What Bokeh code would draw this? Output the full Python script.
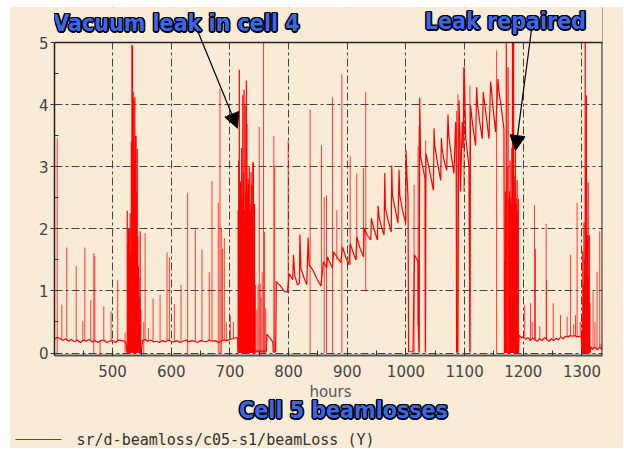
from bokeh.plotting import figure
from bokeh.layouts import column
from bokeh.models import (Range1d, SingleIntervalTicker, Label, Arrow, NormalHead,
                          BoxAnnotation, Span)
from bokeh.embed import file_html
from bokeh.resources import INLINE

# ---------------- data ----------------
base_hours = [
    401, 405, 410, 415, 420, 425, 430, 435, 440, 445, 450, 455, 460, 465, 470, 475,
    480, 485, 490, 495, 500, 505, 510, 515, 520, 523,
    524, 549, 551, 556, 560, 565, 570, 575, 580, 585,
    590, 595, 600, 605, 610, 615, 620, 625, 630, 635,
    640, 645, 650, 655, 660, 665, 670, 675, 680, 685,
    690, 695, 700, 705, 710, 713,
    714, 762, 763, 766, 770, 773, 774, 778, 779,
    786, 793, 798, 801, 807, 808.4, 810.5, 815, 818.5, 819.2,
    821, 826, 831, 833.3, 835, 841, 848, 855, 859.4, 865,
    866.3, 870, 874.8, 876.5, 882, 889, 891.9, 897, 903, 904.9,
    910, 914.5, 916.2, 922, 927.6, 929, 934, 940, 941, 946,
    951.4, 952.5, 954, 958, 962.7, 963.9, 965, 970, 975, 975.8,
    977, 982, 986.5, 988.2, 989.5, 994, 999.6, 1000.2, 1001.5, 1003.5,
    1004.5, 1012, 1014.5, 1018, 1020.5, 1021, 1022.4, 1023.5, 1025, 1029,
    1032.5, 1033.1, 1034, 1035.5, 1041, 1046.8, 1047.9, 1049, 1054, 1059.2,
    1060.4, 1061.5, 1065, 1069.4, 1071.7, 1073, 1077, 1081.9, 1084.7, 1085.5,
    1086.4, 1088.1, 1089.5, 1090.4, 1092, 1093, 1096, 1097.5, 1098.9, 1100,
    1101.8, 1105, 1107.4, 1109.1, 1110, 1114, 1118.8, 1120.5, 1122, 1126,
    1130.1, 1131.8, 1133, 1137, 1141.5, 1144.3, 1146, 1149, 1152.8, 1156.8,
    1158.5, 1162, 1167,
    1168, 1192, 1193, 1197, 1200, 1204, 1208, 1212, 1216, 1220,
    1224, 1228, 1232, 1236, 1240, 1244, 1248, 1252, 1256, 1260,
    1264, 1268, 1272, 1276, 1280, 1284, 1288, 1292, 1296, 1299,
    1300, 1314, 1315, 1318, 1322, 1326, 1330, 1335,
]
base_loss = [
    0.22, 0.25, 0.24, 0.20, 0.23, 0.19, 0.22, 0.18, 0.21, 0.17, 0.21, 0.19, 0.22, 0.18, 0.20, 0.17,
    0.20, 0.21, 0.17, 0.19, 0.20, 0.17, 0.21, 0.20, 0.19, 0.15,
    0.03, 0.03, 0.20, 0.22, 0.19, 0.21, 0.18, 0.19, 0.17, 0.20,
    0.18, 0.21, 0.19, 0.18, 0.20, 0.17, 0.19, 0.21, 0.18, 0.20,
    0.19, 0.17, 0.20, 0.19, 0.18, 0.21, 0.19, 0.20, 0.17, 0.19,
    0.21, 0.20, 0.22, 0.23, 0.25, 0.24,
    0.03, 0.03, 0.30, 0.27, 0.22, 0.18, 0.02, 0.02, 1.15,
    1.08, 0.99, 0.98, 1.28, 1.18, 1.58, 1.25, 1.10, 1.12, 1.91,
    1.36, 1.22, 1.10, 1.86, 1.42, 1.34, 1.20, 1.08, 1.47, 1.37,
    1.55, 1.46, 1.37, 1.63, 1.55, 1.46, 1.71, 1.55, 1.42, 1.76,
    1.62, 1.50, 1.87, 1.68, 1.55, 2.00, 1.90, 1.82, 2.17, 1.98,
    1.82, 2.37, 2.20, 2.04, 1.90, 2.90, 2.33, 2.12, 1.95, 3.02,
    2.54, 2.30, 2.09, 2.95, 2.54, 2.30, 2.09, 3.26, 2.91, 2.50,
    0.02, 0.02, 1.58, 1.52, 1.47, 0.45, 0.02, 4.11, 3.15, 2.98,
    2.81, 0.02, 3.21, 3.15, 2.90, 2.62, 3.62, 3.34, 3.05, 2.78,
    3.46, 3.29, 3.10, 2.94, 3.84, 3.50, 3.20, 2.89, 3.72, 3.64,
    0.02, 0.02, 2.54, 4.07, 3.50, 2.60, 3.72, 3.30, 4.60, 4.33,
    3.48, 3.20, 3.00, 0.02, 3.99, 3.65, 3.34, 4.28, 4.00, 3.70,
    3.45, 4.20, 4.10, 3.80, 3.45, 4.37, 4.20, 3.90, 3.56, 4.41,
    4.20, 3.99, 3.61,
    0.02, 0.02, 0.29, 0.24, 0.27, 0.22, 0.25, 0.20, 0.24, 0.21,
    0.19, 0.23, 0.20, 0.25, 0.22, 0.19, 0.23, 0.20, 0.24, 0.21,
    0.26, 0.23, 0.27, 0.26, 0.28, 0.27, 0.28, 0.26, 0.27, 0.25,
    0.02, 0.02, 0.10, 0.06, 0.10, 0.05, 0.09, 0.06,
]

spike_hours = [
    405.6, 413.5, 422.0, 438.0, 449.3, 452.7, 462.9, 468.0, 469.7, 478.7,
    485.0, 497.5, 508.8, 521.3, 553.1, 555.4, 561.0, 569.0, 580.9, 592.8,
    596.8, 605.3, 616.6, 628.0, 641.0, 652.4, 664.8, 669.4, 680.1, 683.0,
    685.3, 687.5, 690.4, 693.8, 700.6, 706.0,
    746.0, 748.0, 749.9, 751.5, 753.0, 755.0, 757.3, 759.0, 761.0, 774.8,
    776.3, 799.3, 836.7, 856.0, 860.7, 864.6, 874.8, 882.2, 890.7, 905.0,
    916.2, 927.6, 931.5, 1013.9, 1020.7, 1022.4, 1033.6, 1086.4, 1088.6, 1098.9,
    1109.1, 1154.5, 1202.5, 1212.3, 1215.2, 1219.1, 1220.8, 1228.2, 1239.0, 1239.7,
    1250.9, 1263.4, 1274.7, 1280.4, 1286.0, 1289.0, 1291.7, 1297.0, 1318.9, 1322.0,
    1325.7, 1330.3, 1332.5,
]
spike_peaks = [
    3.46, 0.78, 1.70, 1.40, 0.52, 1.70, 0.85, 1.61, 1.56, 0.20,
    0.75, 0.67, 1.17, 0.33, 0.50, 1.93, 0.40, 0.88, 0.94, 1.62,
    1.54, 0.79, 1.10, 2.58, 1.99, 1.67, 1.30, 2.77, 2.42, 4.25,
    2.02, 1.68, 1.85, 0.50, 0.61, 0.50,
    0.70, 1.10, 3.64, 1.12, 0.90, 1.30, 5.30, 1.95, 0.72, 3.49,
    3.02, 3.42, 3.92, 3.35, 2.51, 2.54, 4.12, 2.30, 4.49, 3.17,
    2.89, 2.98, 4.20, 2.71, 3.33, 3.66, 3.42, 3.90, 4.17, 4.60,
    4.31, 4.87, 0.77, 0.80, 0.50, 2.38, 1.68, 0.43, 2.08, 1.17,
    0.80, 0.61, 0.59, 1.58, 0.46, 0.61, 2.42, 0.50, 0.99, 0.50,
    1.31, 1.96, 0.15,
]
spike_floors = [
    0.00, 0.22, 0.22, 0.20, 0.20, 0.20, 0.20, 0.00, 0.20, -0.04,
    0.20, 0.19, 0.20, 0.00, 0.00, 0.20, 0.20, 0.19, 0.18, 0.19,
    0.20, 0.18, 0.18, -0.05, 0.19, 0.19, 0.20, 0.19, 0.00, 0.00,
    0.00, 0.19, 0.21, 0.20, 0.22, 0.23,
    0.00, 0.00, 0.00, 0.00, 0.00, 0.00, 0.00, 0.00, 0.00, 0.00,
    0.00, 0.98, 0.00, 1.08, 0.00, 0.00, 0.00, 1.50, 0.00, 1.42,
    1.50, 1.55, 0.99, 0.00, 0.45, 0.00, 0.00, 0.00, 0.00, 2.60,
    0.00, 0.00, 0.27, 0.20, 0.24, 0.21, 0.21, 0.23, 0.22, 0.22,
    0.20, 0.26, 0.26, 0.28, 0.27, 0.28, 0.26, 0.27, 0.06, 0.10,
    0.05, 0.09, 0.06,
]

burst1_hours = [525, 526, 527, 528, 529, 530, 531, 532, 533, 534, 535, 536,
                537, 538, 539, 540, 541, 542, 543, 544, 545, 546, 547, 548]
burst1_peaks = [2.29, 1.75, 2.0, 1.3, 2.0, 2.25, 1.6, 3.4, 4.96, 4.95, 4.2, 4.09,
                3.1, 4.12, 3.5, 3.49, 2.6, 3.29, 1.88, 1.4, 1.21, 0.9, 1.96, 0.7]
burst2_hours = [714, 715, 716, 717, 718, 719, 720, 721, 722, 723, 724, 725, 726, 727, 728,
                729, 730, 731, 732, 733, 734, 735, 736, 737, 738, 739, 740, 741, 742, 743]
burst2_peaks = [2.3, 3.1, 4.56, 2.4, 2.76, 2.2, 3.3, 2.5, 4.15, 2.9, 4.24, 2.3, 3.98, 2.6, 4.39,
                3.69, 2.6, 2.81, 2.73, 3.0, 2.4, 2.3, 2.91, 2.7, 2.2, 3.07, 3.06, 2.0, 2.4, 1.1]
burst3_hours = [1168, 1169.5, 1171, 1172.5, 1174, 1175.5, 1176.5, 1177.5, 1178.5, 1179.5, 1180.5,
                1181.5, 1182.5, 1183.5, 1184.5, 1185.5, 1186.5, 1187.5, 1188.5, 1189.5, 1190.5, 1191.5]
burst3_peaks = [1.47, 2.6, 5.3, 3.0, 4.6, 2.49, 2.6, 3.1, 2.5, 2.4, 3.3,
                5.3, 2.5, 5.3, 2.86, 2.45, 3.29, 2.5, 2.4, 2.78, 2.3, 2.49]
burst4_hours = [1300.5, 1301.5, 1302.5, 1303.5, 1304.5, 1305.5, 1306.5,
                1307.5, 1308.5, 1309.5, 1310.5, 1311.5, 1312.5, 1313.5]
burst4_peaks = [0.6, 1.64, 1.1, 2.1, 1.5, 5.3, 3.0, 4.15, 1.9, 1.9, 2.75, 1.2, 1.9, 0.8]

title_left = "Vacuum leak in cell 4"
title_right = "Leak repaired"
caption = "Cell 5 beamlosses"
x_label = "hours"
legend_label = "sr/d-beamloss/c05-s1/beamLoss (Y)"

# ---------------- styling ----------------
BG = "#faebd7"
BLUE = "#3a66e8"
TITLE_FONT = "DejaVu Sans Condensed"
TITLE_SIZE = "23px"
W = 613
X0, X1 = 401, 1335          # visible hours
Y0, YTOP = -0.04, 5.0       # visible loss scale (frame continues above it for the titles)


def outlined(fig, text, x, y, size):
    d = 1.5
    e = 1.1
    for dx, dy in ((-d, 0), (d, 0), (0, -d), (0, d), (-e, -e), (e, -e), (-e, e), (e, e)):
        fig.add_layout(Label(x=x, y=y, x_offset=dx, y_offset=dy, text=text,
                             text_font=TITLE_FONT, text_font_size=size, text_font_style="bold",
                             text_color="black", text_align="center", text_baseline="middle"))
    fig.add_layout(Label(x=x, y=y, text=text, text_font=TITLE_FONT, text_font_size=size,
                         text_font_style="bold", text_color=BLUE, text_align="center",
                         text_baseline="middle"))


# ---- main chart (its frame also holds the title strip above the 5 line) ----
p = figure(width=W, height=375, output_backend="svg", toolbar_location=None,
           title_location=None,
           x_range=Range1d(X0, X1), y_range=Range1d(Y0, 5.5636),
           min_border_left=44, min_border_right=21, min_border_top=0, min_border_bottom=27,
           background_fill_color=BG, border_fill_color=BG)
p.outline_line_color = None

p.xaxis.ticker = SingleIntervalTicker(interval=100, num_minor_ticks=2)
p.yaxis.ticker = SingleIntervalTicker(interval=1, num_minor_ticks=2)
p.yaxis.bounds = (Y0, YTOP)
for ax in (p.xaxis, p.yaxis):
    ax.major_label_text_font = "DejaVu Sans"
    ax.major_label_text_font_size = "15px"
    ax.major_label_text_color = "#444444"
    ax.major_tick_line_color = "#333333"
    ax.minor_tick_line_color = "#333333"
p.xaxis.axis_line_color = "#555555"
p.xaxis.axis_line_width = 2
p.xaxis.major_tick_in = 5
p.xaxis.major_tick_out = 0
p.xaxis.minor_tick_in = 5
p.xaxis.minor_tick_out = 0
p.xaxis.major_label_standoff = 9
p.yaxis.axis_line_color = "#222222"
p.yaxis.axis_line_width = 1.5
p.yaxis.major_tick_in = 4
p.yaxis.major_tick_out = 4
p.yaxis.minor_tick_in = 4
p.yaxis.minor_tick_out = 0
p.yaxis.major_label_standoff = 2

p.grid.grid_line_color = "#444444"
p.grid.grid_line_width = 1
p.grid.grid_line_dash = "8 3 3 3"

p.line(base_hours, base_loss, line_color="#ff0000", line_width=1.2)
p.segment(x0=spike_hours, y0=spike_floors, x1=spike_hours, y1=spike_peaks,
          line_color="#ff0000", line_width=1, line_alpha=0.75)
for hrs, pk in ((burst1_hours, burst1_peaks), (burst2_hours, burst2_peaks),
                (burst3_hours, burst3_peaks), (burst4_hours, burst4_peaks)):
    p.segment(x0=hrs, y0=[0.0] * len(hrs), x1=hrs, y1=pk,
              line_color="#ff0000", line_width=1.2)

# right border of the plot box, then mask everything above the 5 line, then top border
p.add_layout(Span(location=X1 - 0.5, dimension="height", line_color="#222222", line_width=1.5))
p.add_layout(BoxAnnotation(bottom=YTOP, fill_color=BG, fill_alpha=1.0, line_color=None))
p.add_layout(Span(location=YTOP, dimension="width", line_color="#222222", line_width=1.5))

# annotations
p.add_layout(Arrow(end=NormalHead(size=15, fill_color="black", line_color="black"),
                   x_start=644.7, y_start=5.193, x_end=712.9, y_end=3.62,
                   line_color="black", line_width=1.2))
p.add_layout(Arrow(end=NormalHead(size=15, fill_color="black", line_color="black"),
                   x_start=1214.0, y_start=5.209, x_end=1186.8, y_end=3.26,
                   line_color="black", line_width=1.2))
outlined(p, title_left, 608.9, 5.314, TITLE_SIZE)
outlined(p, title_right, 1169.7, 5.345, TITLE_SIZE)

# ---- bottom strip: axis title, caption and legend (pixel coordinates) ----
bot = figure(width=W, height=66, output_backend="svg", toolbar_location=None,
             title_location=None, x_range=Range1d(0, W), y_range=Range1d(66, 0),
             x_axis_type=None, y_axis_type=None, min_border=0,
             background_fill_color=BG, border_fill_color=BG)
bot.outline_line_color = None
bot.grid.visible = False
bot.add_layout(Label(x=320, y=9, text=x_label, text_font="DejaVu Sans",
                     text_font_size="15px", text_color="#555555", text_align="center",
                     text_baseline="middle"))
outlined(bot, caption, 333, 27.5, TITLE_SIZE)
bot.add_layout(Arrow(start=None, end=None, x_start=5, y_start=57, x_end=51, y_end=57,
                     line_color="#ff0000", line_width=1))
bot.add_layout(Label(x=66, y=57, text=legend_label, text_font="DejaVu Sans Mono",
                     text_font_size="15px", text_color="#333333", text_align="left",
                     text_baseline="middle"))

# keep each strip's frame where it is drawn (no frame alignment between the two)
for fig in (p, bot):
    if "frame_align" in fig.properties():
        fig.frame_align = False

layout = column(p, bot, spacing=0, margin=(7, 0, 0, 10), styles={"background-color": BG})
open("out.html", "w").write(file_html(layout, INLINE))
